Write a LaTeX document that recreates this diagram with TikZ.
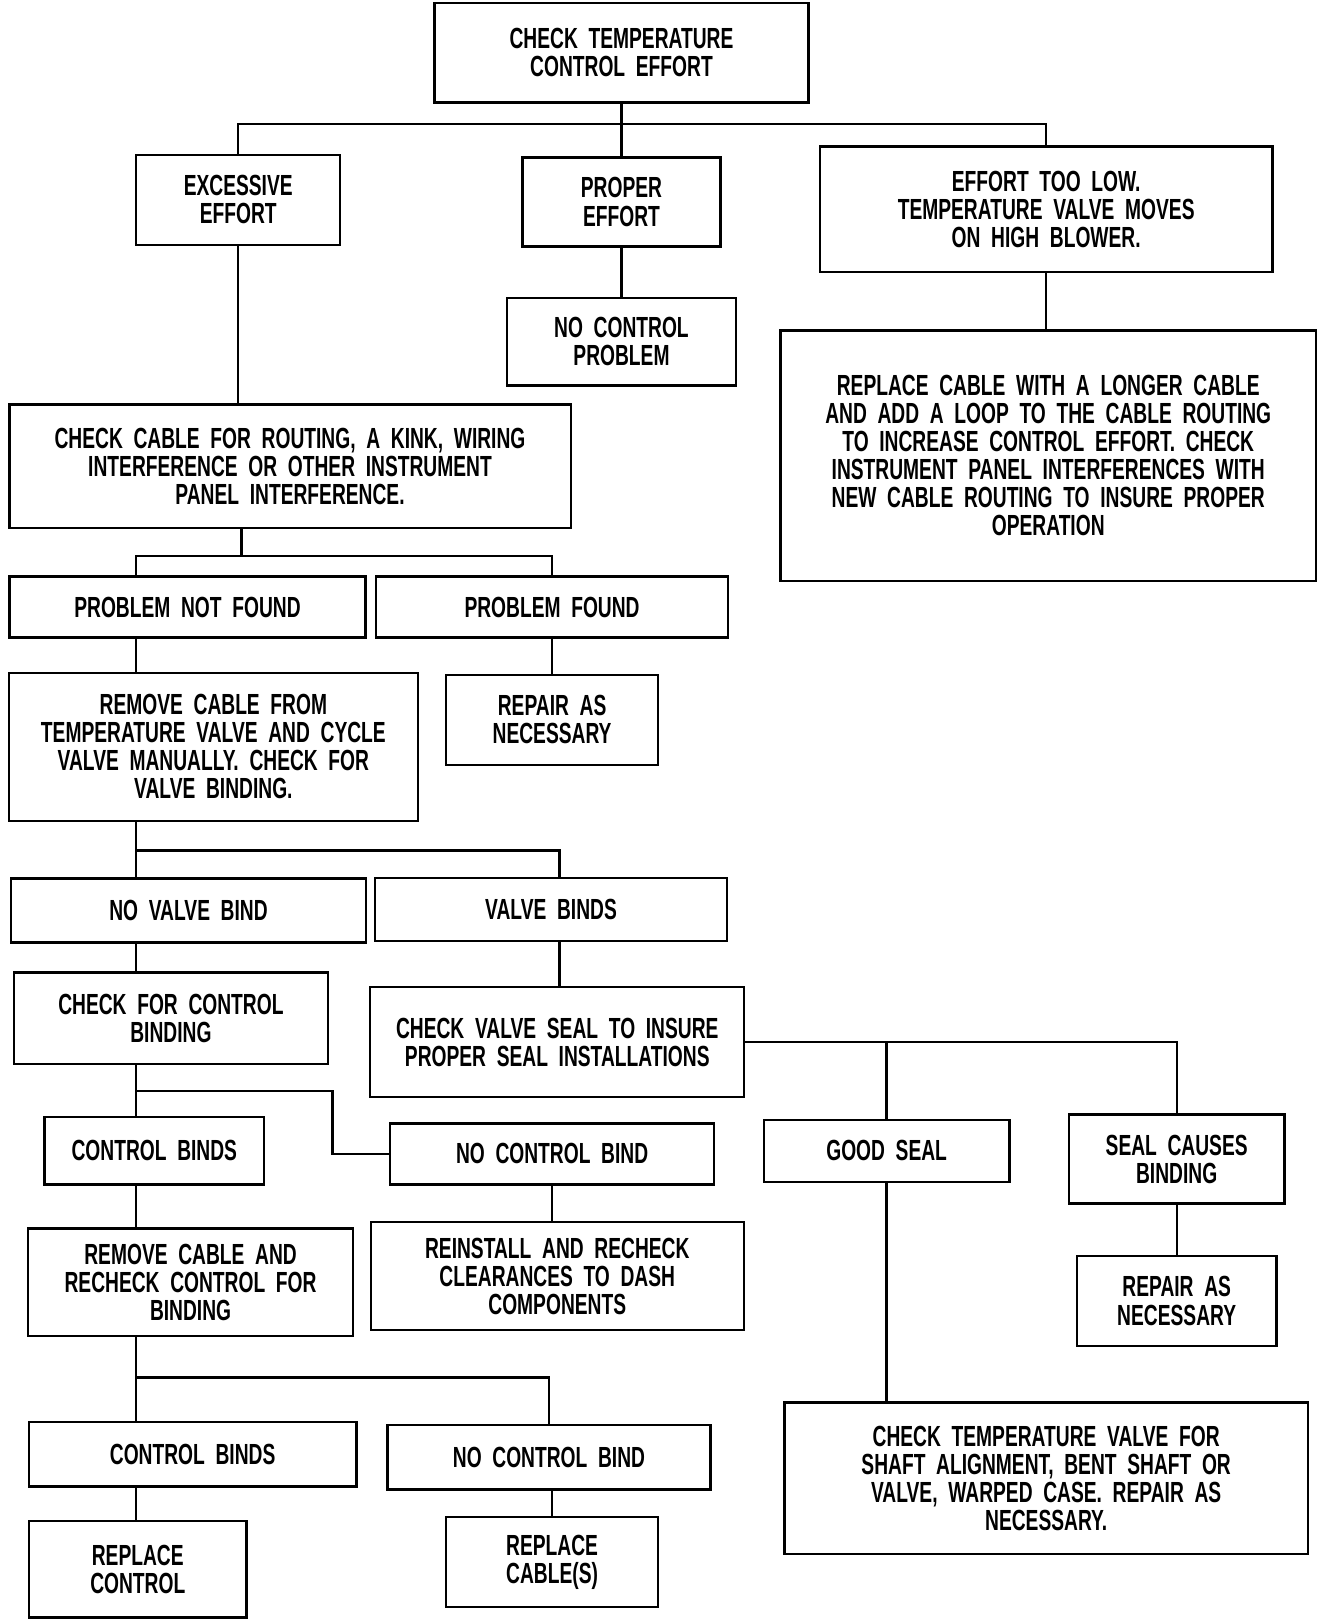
\documentclass[tikz,border=0pt]{standalone}
\usepackage{fontspec}
\newfontfamily\chartfont[FakeStretch=0.66,WordSpace=2]{Liberation Sans}
\usepackage{tikz}
\usetikzlibrary{positioning}

\begin{document}
\begin{tikzpicture}[x=0.02cm,y=0.02cm]
\tikzstyle{every node}+=[inner sep=0pt]
\tikzstyle{box}=[draw, line width=1.3pt, align=center, font=\chartfont\bfseries\fontsize{16}{15.4}\selectfont]
\tikzset{sz/.style args={#1/#2}{minimum width=#1*0.02cm, minimum height=#2*0.02cm}}
\tikzstyle{wire}=[line width=1.3pt]
\useasboundingbox (0,0) rectangle (1282,-1564);
% boxes
\node [box, sz=361/96] (top) at (600,-51) {CHECK TEMPERATURE\\CONTROL EFFORT};
\node [box, sz=197/87] (exc) at (230,-193) {EXCESSIVE\\EFFORT};
\node [box, sz=191/86] (prop) at (600,-195) {PROPER\\EFFORT};
\node [box, sz=437/121] (low) at (1010,-202) {EFFORT TOO LOW.\\TEMPERATURE VALVE MOVES\\ON HIGH BLOWER.};
\node [box, sz=221/84] (noprob) at (600,-330) {NO CONTROL\\PROBLEM};
\node [box, sz=517/242] (repl) at (1012,-440) {REPLACE CABLE WITH A LONGER CABLE\\AND ADD A LOOP TO THE CABLE ROUTING\\TO INCREASE CONTROL EFFORT. CHECK\\INSTRUMENT PANEL INTERFERENCES WITH\\NEW CABLE ROUTING TO INSURE PROPER\\OPERATION};
\node [box, sz=542/119] (chk) at (280,-450) {CHECK CABLE FOR ROUTING, A KINK, WIRING\\INTERFERENCE OR OTHER INSTRUMENT\\PANEL INTERFERENCE.};
\node [box, sz=344/59] (pnf) at (181,-586) {PROBLEM NOT FOUND};
\node [box, sz=340/59] (pf) at (533,-586) {PROBLEM FOUND};
\node [box, sz=395/143] (rem) at (206,-721) {REMOVE CABLE FROM\\TEMPERATURE VALVE AND CYCLE\\VALVE MANUALLY. CHECK FOR\\VALVE BINDING.};
\node [box, sz=205/87] (rep1) at (533,-695) {REPAIR AS\\NECESSARY};
\node [box, sz=343/62] (nvb) at (182,-879) {NO VALVE BIND};
\node [box, sz=340/61] (vb) at (532,-878) {VALVE BINDS};
\node [box, sz=303/88] (cfc) at (165,-983) {CHECK FOR CONTROL\\BINDING};
\node [box, sz=361/106] (seal) at (538,-1006) {CHECK VALVE SEAL TO INSURE\\PROPER SEAL INSTALLATIONS};
\node [box, sz=212/65] (cb1) at (149,-1111) {CONTROL BINDS};
\node [box, sz=313/59] (ncb1) at (533,-1114) {NO CONTROL BIND};
\node [box, sz=237/60] (good) at (856,-1111) {GOOD SEAL};
\node [box, sz=208/86] (sca) at (1136,-1119) {SEAL CAUSES\\BINDING};
\node [box, sz=314/104] (rcab) at (184,-1238) {REMOVE CABLE AND\\RECHECK CONTROL FOR\\BINDING};
\node [box, sz=360/104] (rein) at (538,-1232) {REINSTALL AND RECHECK\\CLEARANCES TO DASH\\COMPONENTS};
\node [box, sz=193/87] (rep2) at (1136,-1256) {REPAIR AS\\NECESSARY};
\node [box, sz=316/62] (cb2) at (186,-1404) {CONTROL BINDS};
\node [box, sz=312/62] (ncb2) at (530,-1407) {NO CONTROL BIND};
\node [box, sz=505/146] (ctv) at (1010,-1427) {CHECK TEMPERATURE VALVE FOR\\SHAFT ALIGNMENT, BENT SHAFT OR\\VALVE, WARPED CASE. REPAIR AS\\NECESSARY.};
\node [box, sz=210/93] (rpc) at (133,-1515) {REPLACE\\CONTROL};
\node [box, sz=205/87] (rcs) at (533,-1508) {REPLACE\\CABLE(S)};
% junctions
\coordinate (spine) at (131,0);
\coordinate (b1) at (600,-120);
\coordinate (b2) at (233,-537);
\coordinate (b3) at (540,-821);
\coordinate (b4) at (321,-1053);
\coordinate (b6) at (530,-1330);
% lines
\draw [wire] (top.south) -- (b1);
\draw [wire] (exc.north) |- (b1) -| (low.north);
\draw [wire] (b1) -- (prop.north);
\draw [wire] (exc.south) -- (exc.south |- chk.north);
\draw [wire] (prop.south) -- (noprob.north);
\draw [wire] (low.south) -- (low.south |- repl.north);
\draw [wire] (chk.south -| b2) -- (b2);
\draw [wire] (pnf.north -| spine) |- (b2) -| (pf.north);
\draw [wire] (pnf.south -| spine) -- (rem.north -| spine);
\draw [wire] (pf.south) -- (rep1.north);
\draw [wire] (rem.south -| spine) -- (nvb.north -| spine);
\draw [wire] (spine |- b3) -| (vb.north -| b3);
\draw [wire] (vb.south -| b3) -- (seal.north -| b3);
\draw [wire] (nvb.south -| spine) -- (cfc.north -| spine);
\draw [wire] (cfc.south -| spine) -- (cb1.north -| spine);
\draw [wire] (spine |- b4) -- (b4) |- (ncb1.west);
\draw [wire] (seal.east) -| (sca.north);
\draw [wire] (good.north) -- (good.north |- seal.east);
\draw [wire] (cb1.south -| spine) -- (rcab.north -| spine);
\draw [wire] (ncb1.south) -- (ncb1.south |- rein.north);
\draw [wire] (sca.south) -- (rep2.north);
\draw [wire] (good.south) -- (good.south |- ctv.north);
\draw [wire] (rcab.south -| spine) -- (cb2.north -| spine);
\draw [wire] (spine |- b6) -| (ncb2.north);
\draw [wire] (cb2.south -| spine) -- (rpc.north -| spine);
\draw [wire] (rcs.north) -- (rcs.north |- ncb2.south);
\end{tikzpicture}
\end{document}
